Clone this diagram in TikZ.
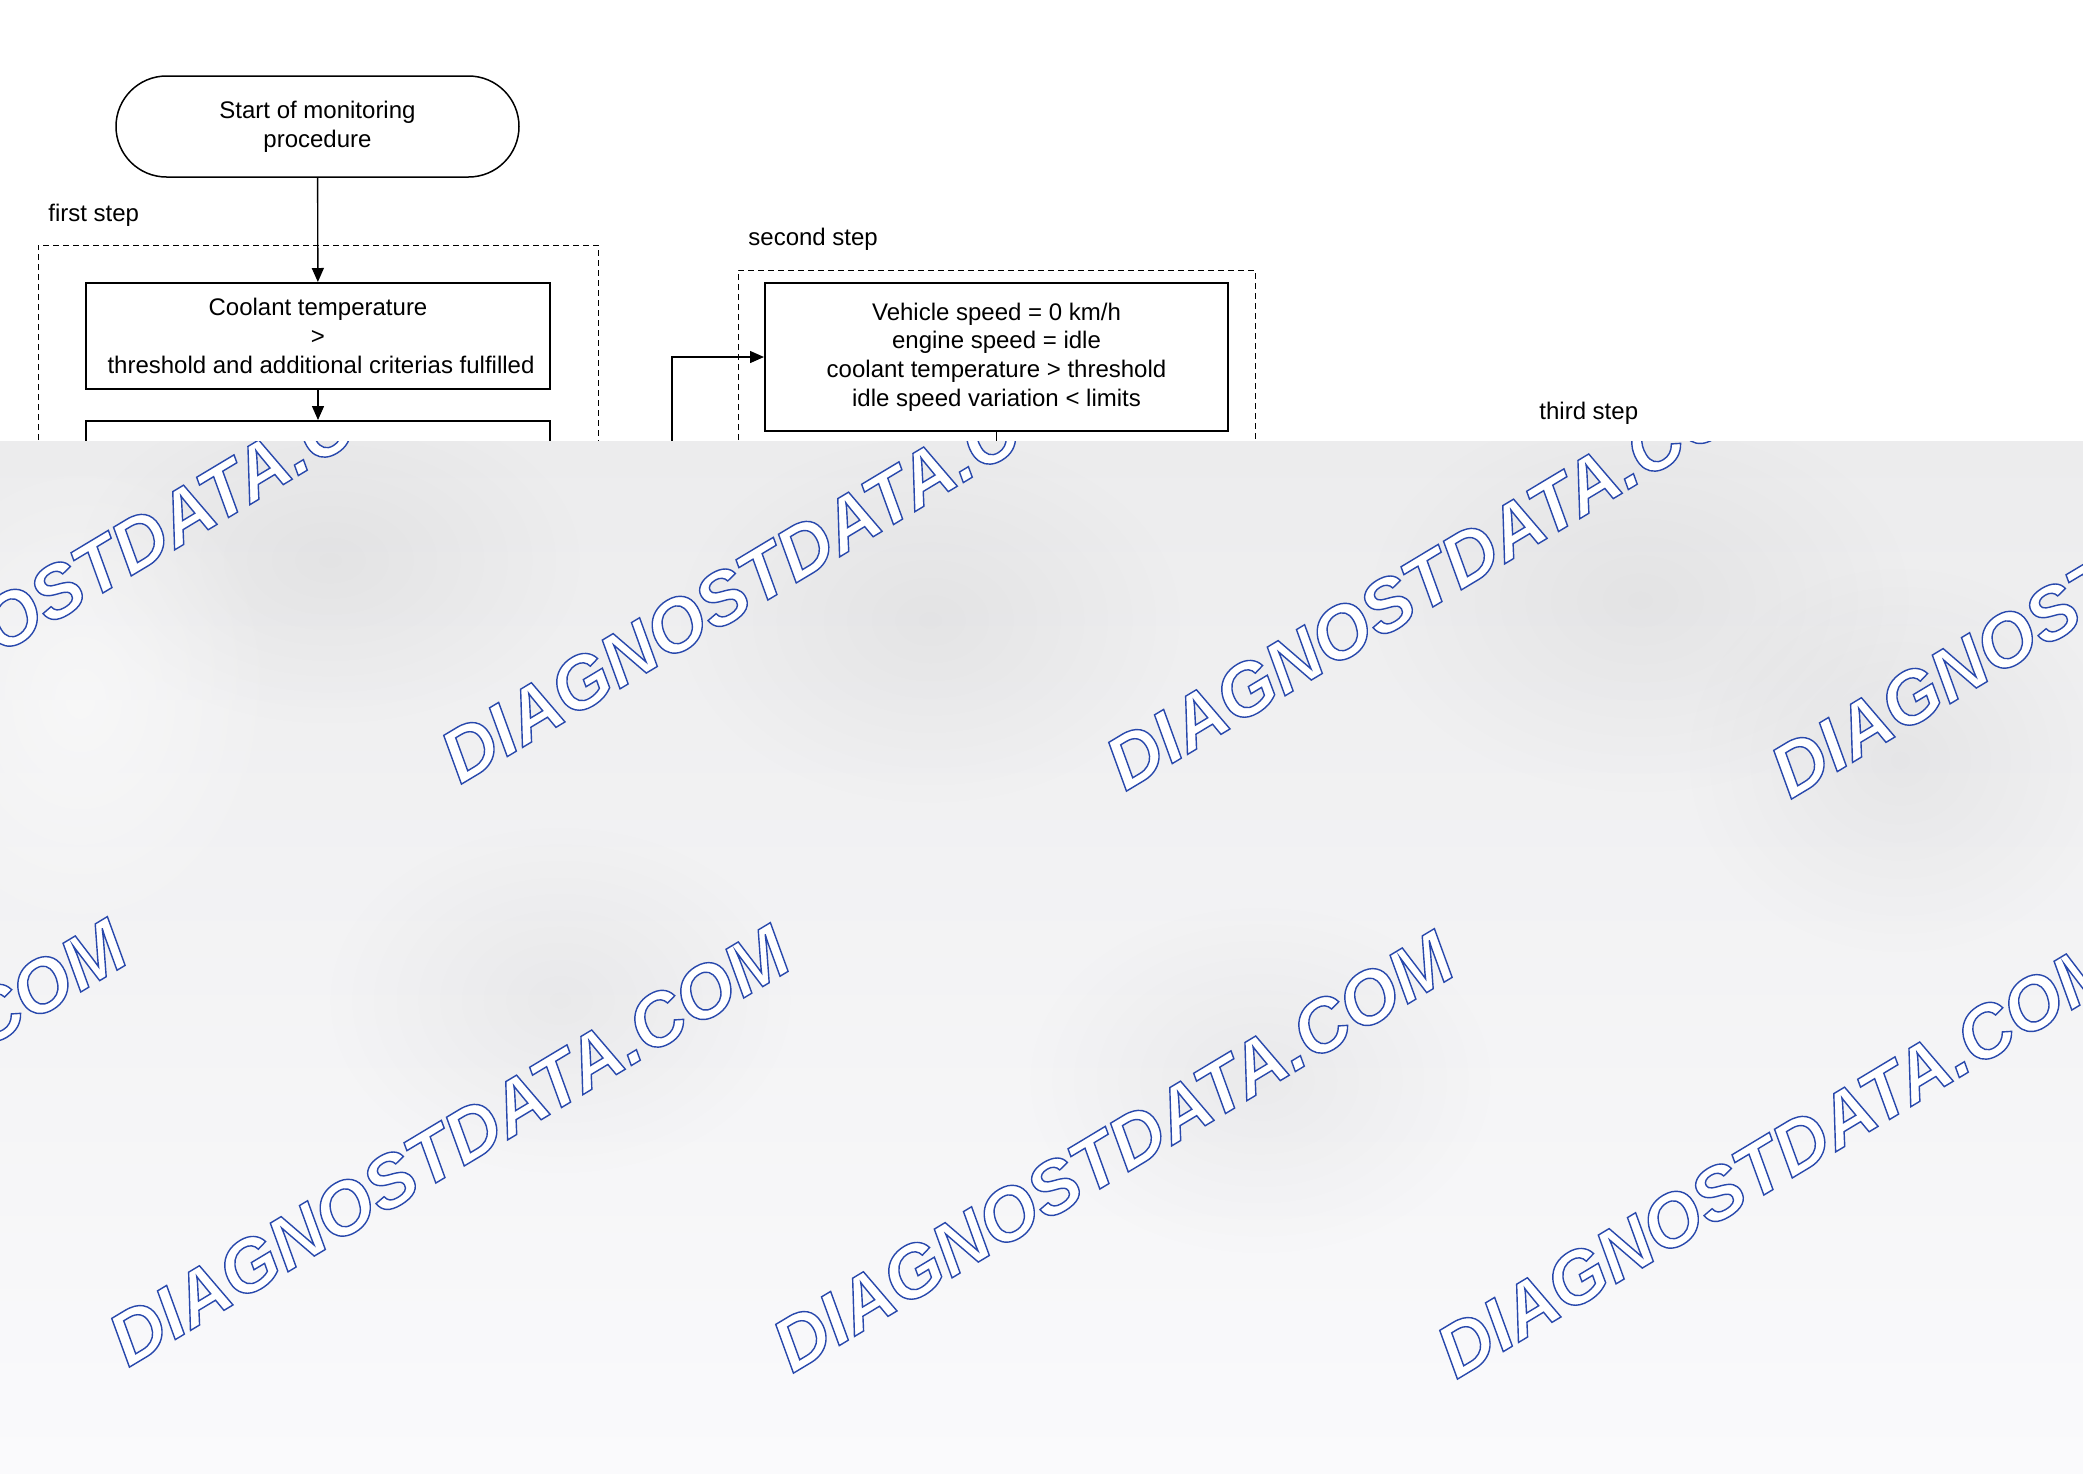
\documentclass[tikz,border=0pt]{standalone}
\usepackage{fontspec}
\setmainfont{Liberation Sans}
\newfontfamily\wmfont{Liberation Sans}
\usetikzlibrary{shapes.misc,arrows.meta,fadings}
\definecolor{ovtop}{RGB}{236,236,237}
\definecolor{ovmid}{RGB}{242,242,243}
\definecolor{ovbot}{RGB}{250,250,252}
\newcommand\wmon{\special{pdf:literal direct 2 Tr 0.7 w 0.157 0.282 0.675 RG 1 g}}
\newcommand\wmoff{\special{pdf:literal direct 0 Tr 0 g 0 G}}
\tikzfading[name=softblob, inner color=transparent!0, outer color=transparent!100]
\tikzset{
  txtstyle/.style={font=\fontsize{12}{14.35}\selectfont, align=center, inner sep=0pt},
  startbox/.style={txtstyle, rounded rectangle, draw, line width=0.75pt, minimum width=201.5pt, minimum height=50.5pt},
  procbox/.style={txtstyle, rectangle, draw, line width=1pt},
  groupbox/.style={draw, dash pattern=on 3pt off 2pt, line width=0.5pt},
  steplabel/.style={txtstyle, anchor=west},
  flow/.style={-{Triangle[length=7pt,width=6pt]}, line width=0.7pt},
  blob/.style={fill=black, opacity=0.045, path fading=softblob},
  wmtext/.style={anchor=base west, inner sep=0pt, rotate=31, font=\wmfont\bfseries\itshape\fontsize{37}{42}\selectfont}
}
\begin{document}
\begin{tikzpicture}[x=0.5pt,y=-0.5pt]
\useasboundingbox (0,0) rectangle (2083,1473);
\fill[white] (0,0) rectangle (2083,1473);
% group frames
\draw[groupbox] (38,700) |- (598,245) -- (598,700);
\draw[groupbox] (738,700) |- (1255,270) -- (1255,700);
\node[steplabel] (l1) at (48,215) {first step};
\node[steplabel] (l2) at (748,239) {second step};
\node[steplabel] (l3) at (1539,413) {third step};
% nodes
\node[startbox] (start) at (317.5,126.5) {Start of monitoring\\procedure};
\node[procbox, minimum width=232pt, minimum height=53pt] (cool) at (318,336) {Coolant temperature\\>\\\hspace{3pt}threshold and additional criterias fulfilled};
\node[procbox, minimum width=232pt, minimum height=100pt, anchor=north] (box2) at (318,420) {};
\node[procbox, minimum width=231.5pt, minimum height=74pt] (idle) at (996.5,357) {Vehicle speed = 0 km/h\\engine speed = idle\\coolant temperature > threshold\\idle speed variation < limits};
% connectors
\draw[flow] (start) -- (cool);
\draw[flow] (cool) -- (box2);
\coordinate (fb) at (672,700);
\draw[flow] (fb) |- (idle.west);
\coordinate (down) at (996.5,700);
\draw[line width=0.7pt] (idle) -- (down);
% overlay
\begin{scope}
\clip (0,441) rectangle (2083,1473);
\shade[top color=ovtop, middle color=ovmid, bottom color=ovbot] (0,441) rectangle (2083,1473);
\fill[blob] (330,560) ellipse (260 and 170);
\fill[blob] (930,620) ellipse (260 and 190);
\fill[blob] (1640,600) ellipse (280 and 200);
\fill[blob] (1900,760) ellipse (220 and 200);
\fill[blob] (560,1000) ellipse (240 and 180);
\fill[blob] (1260,1080) ellipse (240 and 180);
\fill[white, opacity=0.5, path fading=softblob] (80,700) ellipse (200 and 250);
\foreach \x/\y [count=\i] in {-205/778, 460/785, 1125/792, 1790/800, -535/1362, 128/1368, 792/1374, 1456/1380}
  \node[wmtext] (wm\i) at (\x,\y) {\wmon DIAGNOSTDATA.COM\wmoff};
\end{scope}
\end{tikzpicture}
\end{document}
